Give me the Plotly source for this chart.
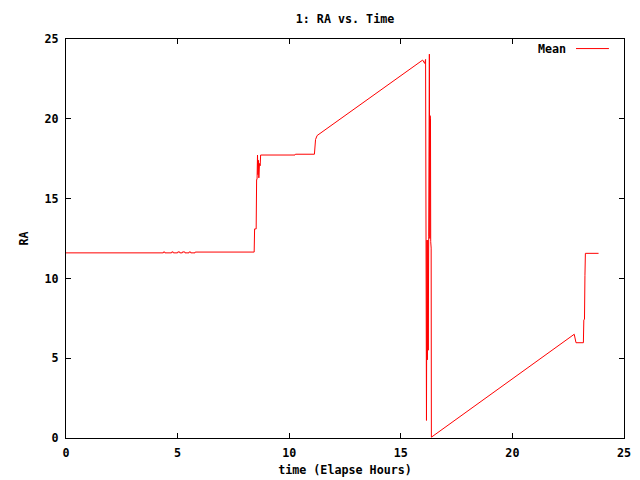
import plotly.graph_objects as go

# Elapsed time (hours) and mean RA values
time_hours = [
    0.0, 4.36, 4.37, 4.42, 4.43, 4.73, 4.74, 4.80, 4.81, 5.00, 5.01, 5.09, 5.10,
    5.21, 5.22, 5.32, 5.33, 5.51, 5.52, 5.58, 5.59, 5.78, 5.79,
    8.43, 8.45, 8.52, 8.54, 8.56, 8.58, 8.60, 8.62, 8.64, 8.67, 8.70, 8.72,
    10.26, 10.28, 11.13, 11.18, 11.25, 15.98, 16.07, 16.11,
    16.15, 16.17, 16.19, 16.21, 16.23, 16.25, 16.28, 16.30, 16.31, 16.32,
    16.33, 16.34, 16.36, 16.37,
    22.77, 22.85, 23.18, 23.20, 23.23, 23.25, 23.27, 23.86,
]
ra_mean = [
    11.60, 11.60, 11.66, 11.66, 11.60, 11.60, 11.66, 11.66, 11.60, 11.60, 11.66, 11.66, 11.60,
    11.60, 11.66, 11.66, 11.60, 11.60, 11.66, 11.66, 11.60, 11.60, 11.65,
    11.65, 13.10, 13.10, 16.20, 16.20, 17.73, 16.50, 17.40, 16.30, 17.20, 17.06, 17.73,
    17.73, 17.78, 17.78, 18.70, 18.95, 23.68, 23.47, 23.72,
    1.10, 12.40, 4.90, 12.40, 5.50, 12.60, 24.05, 12.50, 20.20, 12.60,
    20.00, 12.30, 11.90, 0.05,
    6.50, 5.97, 5.97, 7.39, 7.45, 10.17, 11.57, 11.57,
]

x_ticks = [0, 5, 10, 15, 20, 25]
y_ticks = [0, 5, 10, 15, 20, 25]

FONT = dict(family="DejaVu Sans Mono", size=11.7, color="black", weight="bold")

fig = go.Figure()
fig.add_trace(go.Scatter(
    x=time_hours, y=ra_mean, mode="lines", name="Mean",
    line=dict(color="#ff0000", width=1), showlegend=False,
))

axis_common = dict(
    showline=True, linecolor="black", linewidth=1, mirror="allticks",
    ticks="inside", ticklen=5, tickcolor="black", tickwidth=1,
    showgrid=False, zeroline=False, tickfont=FONT, automargin=False,
)

fig.update_layout(
    width=640, height=480,
    paper_bgcolor="white", plot_bgcolor="white",
    margin=dict(l=66, r=16, t=39, b=42),
    font=FONT,
    title=dict(text="1: RA vs. Time", x=(66 + 624) / 2 / 640, xanchor="center",
               y=1 - 19 / 480, yanchor="middle", font=FONT),
    xaxis=dict(range=[0, 25], tickvals=x_ticks, ticktext=[str(v) for v in x_ticks],
               ticklabelstandoff=4,
               title=dict(text="time (Elapse Hours)", font=FONT, standoff=6),
               **axis_common),
    yaxis=dict(range=[0, 25], tickvals=y_ticks, ticktext=[str(v) for v in y_ticks],
               ticklabelstandoff=4,
               title=dict(text="RA", font=FONT, standoff=13),
               **axis_common),
)

# gnuplot-style key: label then line sample
fig.add_annotation(text="Mean", xref="paper", yref="paper", x=0.90, y=0.976,
                   xanchor="right", yanchor="middle", showarrow=False, font=FONT)
fig.add_shape(type="line", xref="paper", yref="paper", x0=0.914, x1=0.973,
              y0=0.976, y1=0.976, line=dict(color="#ff0000", width=1))

fig.write_html("out.html", config={"displayModeBar": False},
               post_script="document.body.style.margin='0';document.body.style.padding='0';")
